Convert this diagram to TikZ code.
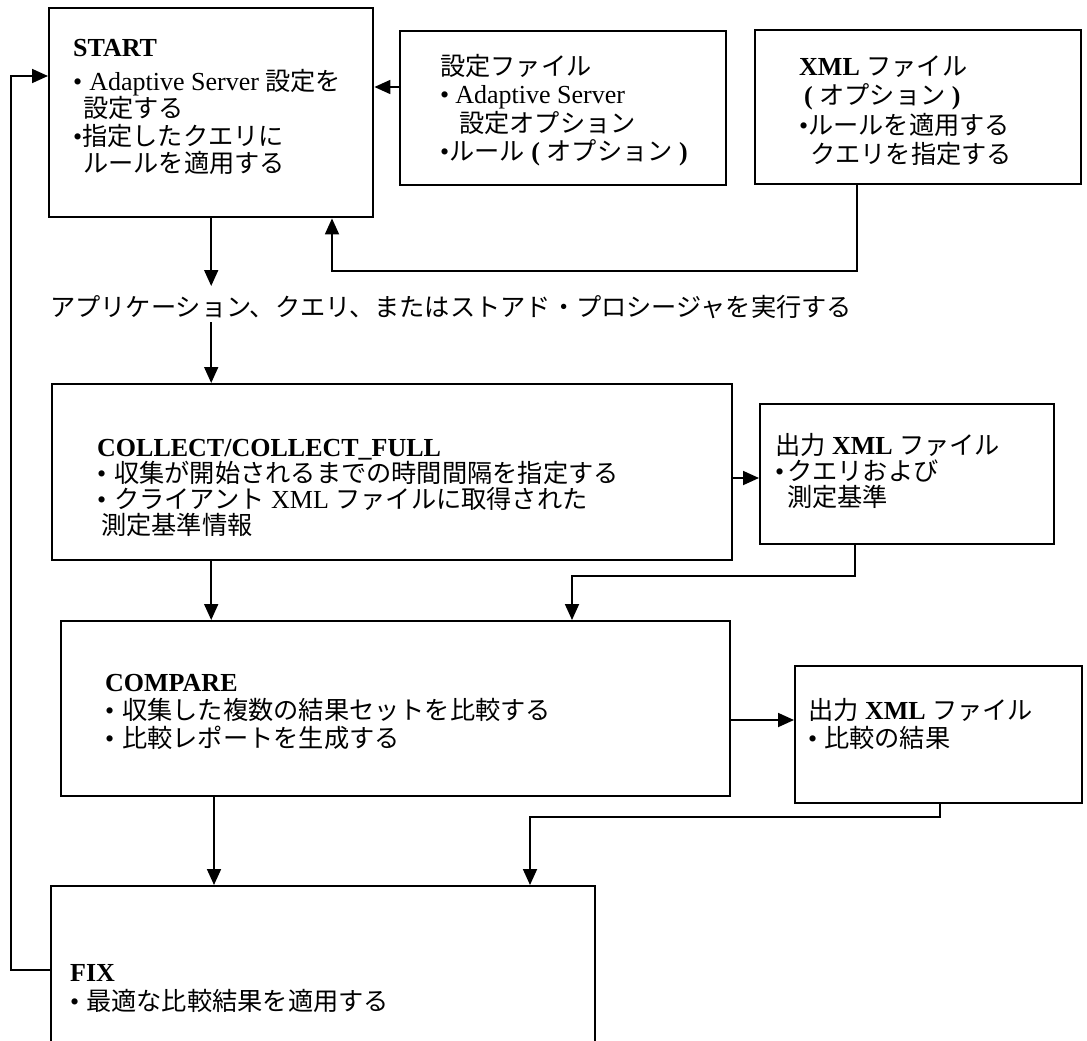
\documentclass[tikz,border=0pt]{standalone}
\usepackage{fontspec}
\setmainfont{Liberation Serif}
\newfontfamily\jp{Noto Sans CJK JP}[Scale=0.97]
\usetikzlibrary{arrows.meta}
\newcommand\J[1]{{\jp #1}}
\lineskiplimit=-50pt
\begin{document}
\begin{tikzpicture}[x=1pt,y=-1pt,
  box/.style={draw, line width=2.4pt, inner sep=0pt, anchor=north west},
  txt/.style={anchor=north west, inner sep=0pt, align=left},
  conn/.style={line width=1.8pt},
  arr/.style={conn, -{Triangle[length=16pt,width=14pt]}},
]
\useasboundingbox (0,0) rectangle (1087,1041);
\fill[white] (0,0) rectangle (1087,1041);
\clip (0,0) rectangle (1087,1041);

% boxes
\node[box, minimum width=324pt, minimum height=209pt] (start) at (48,7) {};
\node[box, minimum width=326pt, minimum height=154pt] (cfg) at (399,30) {};
\node[box, minimum width=326pt, minimum height=154pt] (xml) at (754,29) {};
\node[box, minimum width=680pt, minimum height=176pt] (collect) at (51,383) {};
\node[box, minimum width=294pt, minimum height=140pt] (out1) at (759,403) {};
\node[box, minimum width=669pt, minimum height=175pt] (compare) at (60,620) {};
\node[box, minimum width=287pt, minimum height=137pt] (out2) at (794,665) {};
\node[box, minimum width=544pt, minimum height=200pt] (fix) at (50,885) {};

% texts
\node[txt, font=\fontsize{26}{27.5}\selectfont] (startT) at (73,30)
 {\rule{0pt}{26pt}\textbf{START}\\[6.5pt]
  \textbullet\hspace{7pt}Adaptive Server \J{設定を}\\
  \hspace{10pt}\J{設定する}\\
  \textbullet\J{指定したクエリに}\\
  \hspace{10pt}\J{ルールを適用する}};

\node[txt, font=\fontsize{26}{28.5}\selectfont] (cfgT) at (440,49)
 {\rule{0pt}{26pt}\J{設定ファイル}\\
  \textbullet\hspace{6pt}Adaptive Server\\
  \hspace{19pt}\J{設定オプション}\\
  \textbullet\J{ルール} \textbf{(} \J{オプション} \textbf{)}};

\node[txt, font=\fontsize{26}{29.5}\selectfont] (xmlT) at (799,49)
 {\rule{0pt}{26pt}\textbf{XML} \J{ファイル}\\
  \hspace{5pt}\textbf{(} \J{オプション} \textbf{)}\\
  \textbullet\J{ルールを適用する}\\
  \hspace{11pt}\J{クエリを指定する}};

\node[txt, font=\fontsize{26}{28}\selectfont] (run) at (50,290)
 {\rule{0pt}{26pt}\J{アプリケーション、クエリ、またはストアド・プロシージャを実行する}};

\node[txt, font=\fontsize{26}{26}\selectfont] (collectT) at (97,430)
 {\rule{0pt}{26pt}\textbf{COLLECT/COLLECT\_FULL}\\
  \textbullet\hspace{8pt}\J{収集が開始されるまでの時間間隔を指定する}\\
  \textbullet\hspace{8pt}\J{クライアント} XML \J{ファイルに取得された}\\
  \hspace{4pt}\J{測定基準情報}};

\node[txt, font=\fontsize{26}{26}\selectfont] (out1T) at (775,428)
 {\rule{0pt}{26pt}\J{出力} \textbf{XML} \J{ファイル}\\
  \textbullet\hspace{3pt}\J{クエリおよび}\\
  \hspace{12pt}\J{測定基準}};

\node[txt, font=\fontsize{26}{28}\selectfont] (compareT) at (105,665)
 {\rule{0pt}{26pt}\textbf{COMPARE}\\
  \textbullet\hspace{8pt}\J{収集した複数の結果セットを比較する}\\
  \textbullet\hspace{8pt}\J{比較レポートを生成する}};

\node[txt, font=\fontsize{26}{28}\selectfont] (out2T) at (808,693)
 {\rule{0pt}{26pt}\J{出力} \textbf{XML} \J{ファイル}\\
  \textbullet\hspace{7pt}\J{比較の結果}};

\node[txt, font=\fontsize{26}{29}\selectfont] (fixT) at (70,955)
 {\rule{0pt}{26pt}\textbf{FIX}\\
  \textbullet\hspace{7pt}\J{最適な比較結果を適用する}};

% connectors
\draw[arr] (cfg.west |- 0,87) -- (start.east |- 0,87);
\draw[arr] (start.south) -- (start.south |- 0,286);
\draw[arr] (start.south |- 0,322) -- (start.south |- collect.north);
\draw[arr] (xml.south -| 857,0) -- (857,271) -- (332,271) -- (start.south -| 332,0);
\draw[arr] (collect.east |- 0,478) -- (out1.west |- 0,478);
\draw[arr] (collect.south -| start.south) -- (compare.north -| start.south);
\draw[arr] (out1.south -| 855,0) -- (855,576) -- (572,576) -- (compare.north -| 572,0);
\draw[arr] (compare.east |- 0,720) -- (out2.west |- 0,720);
\draw[arr] (compare.south -| 214,0) -- (fix.north -| 214,0);
\draw[arr] (out2.south -| 940,0) -- (940,817) -- (530,817) -- (fix.north -| 530,0);
\draw[arr] (fix.west |- 0,970) -- (11,970) -- (11,76) -- (start.west |- 0,76);
\end{tikzpicture}
\end{document}
